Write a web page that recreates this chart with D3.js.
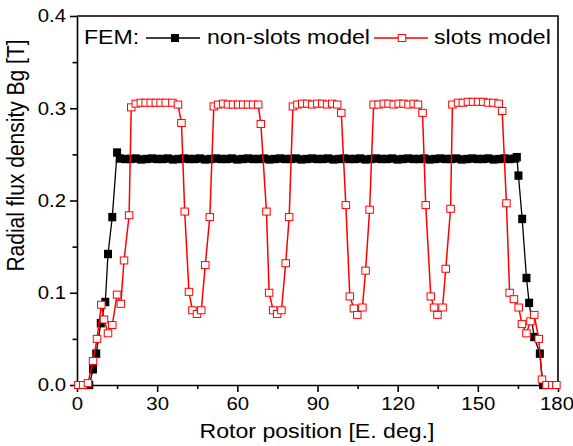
<!DOCTYPE html>
<html lang="en">
<head>
<meta charset="UTF-8">
<title>Radial flux density vs rotor position</title>
<script src="https://d3js.org/d3.v7.min.js"></script>
<style>
  body { margin: 0; background: #fff; }
  svg { display: block; font-family: "Liberation Sans", Arial, sans-serif; }
  .axis path, .axis line { stroke: #000; stroke-width: 1.6; }
  .axis text { font-size: 18.5px; fill: #000; }
</style>
</head>
<body>
<svg id="chart" width="573" height="446"></svg>
<script>
// tick values
const xTicks = [0, 30, 60, 90, 120, 150, 180];
const xMinor = [15, 45, 75, 105, 135, 165];
const yTicks = [0, 0.1, 0.2, 0.3, 0.4];
const yMinor = [0.05, 0.15, 0.25, 0.35];

// FEM non-slots model
const nonSlotsDeg = [4.6, 6.0, 7.2, 8.9, 10.6, 11.6, 13.2, 15.0,
  16, 18, 20, 22, 24, 26, 28, 30, 32, 34, 36, 38, 40, 42, 44, 46, 48, 50,
  52, 54, 56, 58, 60, 62, 64, 66, 68, 70, 72, 74, 76, 78, 80, 82, 84, 86,
  88, 90, 92, 94, 96, 98, 100, 102, 104, 106, 108, 110, 112, 114, 116, 118,
  120, 122, 124, 126, 128, 130, 132, 134, 136, 138, 140, 142, 144, 146, 148,
  150, 152, 154, 156, 158, 160, 162, 164,
  164.6, 165.2, 166.6, 168.2, 169.2, 171.1, 173.2, 174.4];
const nonSlotsB = [0, 0.017, 0.034, 0.067, 0.090, 0.142, 0.182, 0.252,
  0.2455, 0.245, 0.245, 0.2455, 0.2445, 0.245, 0.2455, 0.245, 0.245, 0.2455, 0.2445, 0.245, 0.2455, 0.245, 0.245, 0.2455, 0.2445, 0.245,
  0.2455, 0.245, 0.245, 0.2455, 0.2445, 0.245, 0.2455, 0.245, 0.245, 0.2455, 0.2445, 0.245, 0.2455, 0.245, 0.245, 0.2455, 0.2445, 0.245,
  0.2455, 0.245, 0.245, 0.2455, 0.2445, 0.245, 0.2455, 0.245, 0.245, 0.2455, 0.2445, 0.245, 0.2455, 0.245, 0.245, 0.2455,
  0.2445, 0.245, 0.2455, 0.245, 0.245, 0.2455, 0.2445, 0.245, 0.2455, 0.245, 0.245, 0.2455, 0.2445, 0.245, 0.2455,
  0.245, 0.245, 0.2455, 0.2445, 0.245, 0.2455, 0.245, 0.2455,
  0.247, 0.227, 0.180, 0.116, 0.089, 0.052, 0.034, 0];

// FEM slots model
const slotsDeg = [0.5, 2.3, 4.1, 6.0, 7.5, 9.1, 10.1, 11.6, 13.2, 15.0, 16.4, 17.6, 19.5,
  20.3, 22.0, 23.9, 25.7, 27.6, 29.5, 31.3, 33.2, 35.7, 37.8,
  39.1, 40.3, 41.9, 43.2, 44.9, 46.5, 48.0, 49.7,
  51.2, 52.8, 54.7, 56.5, 58.4, 60.3, 62.2, 64.0, 65.9, 67.8,
  68.8, 70.9, 71.9, 73.4, 74.9, 76.5, 78.1, 79.4,
  80.8, 82.5, 84.3, 86.2, 88.0, 89.9, 91.8, 93.6, 95.5, 97.4,
  98.9, 100.6, 102.1, 103.6, 104.9, 106.8, 108.0, 109.5,
  111.0, 112.9, 114.8, 116.6, 118.5, 120.4, 122.2, 124.1, 126.0, 127.6,
  129.3, 130.5, 132.4, 133.6, 134.9, 136.8, 138.0, 139.8,
  140.5, 142.6, 144.4, 146.3, 148.2, 150.1, 152.0, 153.8, 155.8, 157.8,
  159.1, 160.7, 161.9, 163.5, 165.3, 166.5, 168.2, 169.7, 171.1, 172.8, 174.0, 175.7, 177.8, 179.4];
const slotsB = [0, 0, 0.002, 0.026, 0.050, 0.087, 0.071, 0.056, 0.065, 0.098, 0.088, 0.135, 0.184,
  0.301, 0.305, 0.306, 0.306, 0.306, 0.306, 0.306, 0.306, 0.306, 0.304,
  0.284, 0.188, 0.101, 0.081, 0.077, 0.081, 0.130, 0.182,
  0.302, 0.304, 0.305, 0.304, 0.304, 0.304, 0.304, 0.304, 0.304, 0.304,
  0.283, 0.188, 0.100, 0.081, 0.077, 0.081, 0.132, 0.182,
  0.302, 0.304, 0.305, 0.305, 0.304, 0.305, 0.305, 0.304, 0.305, 0.304,
  0.295, 0.195, 0.096, 0.083, 0.076, 0.084, 0.124, 0.190,
  0.304, 0.304, 0.305, 0.305, 0.304, 0.305, 0.305, 0.304, 0.305, 0.304,
  0.295, 0.195, 0.096, 0.084, 0.076, 0.084, 0.126, 0.191,
  0.304, 0.306, 0.306, 0.307, 0.307, 0.307, 0.307, 0.306, 0.306, 0.305,
  0.297, 0.197, 0.100, 0.093, 0.084, 0.066, 0.056, 0.069, 0.076, 0.050, 0.006, 0, 0, 0];

const svg = d3.select("#chart");
const plotLeft = 77, plotRight = 558, plotTop = 16, plotBottom = 385;
const stretch = "scale(1.1,1)";

const x = d3.scaleLinear().domain([0, 180]).range([plotLeft, plotRight]);
const y = d3.scaleLinear().domain([0, 0.4]).range([plotBottom, plotTop]);

// frame (top + right)
svg.append("path")
  .attr("d", `M${plotLeft},${plotTop}H${plotRight}V${plotBottom}`)
  .attr("fill", "none").attr("stroke", "#000").attr("stroke-width", 1.6);

// minor ticks
svg.append("g").attr("class", "axis").attr("transform", `translate(0,${plotBottom})`)
  .call(d3.axisBottom(x).tickValues(xMinor).tickSize(4).tickFormat(""))
  .call(g => g.select(".domain").remove());
svg.append("g").attr("class", "axis").attr("transform", `translate(${plotLeft},0)`)
  .call(d3.axisLeft(y).tickValues(yMinor).tickSize(4.5).tickFormat(""))
  .call(g => g.select(".domain").remove());

// major axes
const xAxis = svg.append("g").attr("class", "axis").attr("transform", `translate(0,${plotBottom})`)
  .call(d3.axisBottom(x).tickValues(xTicks).tickSize(7).tickSizeOuter(0).tickPadding(5).tickFormat(d3.format("d")));
xAxis.selectAll("text").attr("transform", d => d === 180 ? "translate(-1.5,0) " + stretch : stretch);

const yAxis = svg.append("g").attr("class", "axis").attr("transform", `translate(${plotLeft},0)`)
  .call(d3.axisLeft(y).tickValues(yTicks).tickSize(7).tickSizeOuter(0).tickPadding(3).tickFormat(d3.format(".1f")));
yAxis.selectAll("text").attr("transform", stretch);

// axis titles
svg.append("text")
  .attr("transform", `translate(317,437.5) ${stretch}`)
  .attr("text-anchor", "middle").attr("font-size", 21)
  .text("Rotor position [E. deg.]");
svg.append("text")
  .attr("transform", `translate(24,155.5) ${stretch} rotate(-90)`)
  .attr("text-anchor", "middle").attr("font-size", 21)
  .text("Radial flux density Bg [T]");

// series
const nonSlots = nonSlotsDeg.map((d, i) => [d, nonSlotsB[i]]);
const slots = slotsDeg.map((d, i) => [d, slotsB[i]]);
const line = d3.line().x(d => x(d[0])).y(d => y(d[1]));

svg.append("path").datum(nonSlots)
  .attr("d", line).attr("fill", "none").attr("stroke", "#000").attr("stroke-width", 1.3);
svg.append("g").selectAll("rect").data(nonSlots).join("rect")
  .attr("x", d => x(d[0]) - 4).attr("y", d => y(d[1]) - 4.2)
  .attr("width", 8).attr("height", 8.4).attr("fill", "#000");

svg.append("path").datum(slots)
  .attr("d", line).attr("fill", "none").attr("stroke", "#ff0000").attr("stroke-width", 1.5);
svg.append("g").selectAll("rect").data(slots).join("rect")
  .attr("x", d => x(d[0]) - 3.75).attr("y", d => y(d[1]) - 3.5)
  .attr("width", 7.5).attr("height", 7)
  .attr("fill", "#fff").attr("stroke", "#ff0000").attr("stroke-width", 1);

// legend
const legend = svg.append("g").attr("font-size", 21);
legend.append("text").attr("transform", `translate(84,44) ${stretch}`).text("FEM:");
legend.append("line").attr("x1", 146).attr("x2", 200).attr("y1", 38).attr("y2", 38)
  .attr("stroke", "#000").attr("stroke-width", 1.3);
legend.append("rect").attr("x", 171).attr("y", 34).attr("width", 8).attr("height", 8).attr("fill", "#000");
legend.append("text").attr("transform", `translate(207,44) ${stretch}`).text("non-slots model");
legend.append("line").attr("x1", 374).attr("x2", 428).attr("y1", 38).attr("y2", 38)
  .attr("stroke", "#ff0000").attr("stroke-width", 1.5);
legend.append("rect").attr("x", 398.25).attr("y", 34.5).attr("width", 7.5).attr("height", 7)
  .attr("fill", "#fff").attr("stroke", "#ff0000").attr("stroke-width", 1);
legend.append("text").attr("transform", `translate(434,44) ${stretch}`).text("slots model");
</script>
</body>
</html>
